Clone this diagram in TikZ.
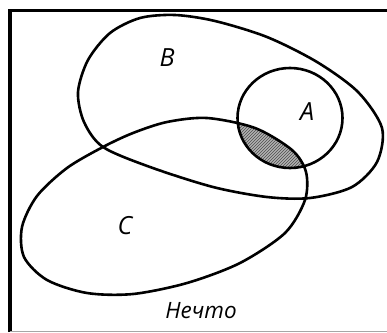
\documentclass[tikz,border=0pt]{standalone}
\usepackage{fontspec}
\setmainfont{Open Sans}
\usetikzlibrary{patterns}

\tikzset{
	setline/.style={line width=2.6pt, line join=round},
	setlabel/.style={font=\fontsize{25}{25}\selectfont\itshape, inner sep=0pt},
	caption/.style={font=\fontsize{22.5}{26}\selectfont\itshape, inner sep=0pt},
	lens/.style={fill=gray!60, postaction={pattern=north east lines, pattern color=black!70}},
}

\begin{document}
\begin{tikzpicture}[x=1pt, y=-1pt]
	\useasboundingbox (0,0) rectangle (387,332);
	% frame
	\draw[line width=3.5pt] (10,332) -- (10,10.5) -- (387,10.5);
	\draw[gray!70, line width=1pt] (10,331.5) -- (387,331.5);
	% shaded part: A and C
	\begin{scope}
		\clip plot[smooth cycle] coordinates {(103,147) (67,168) (37,196) (22,227) (24,257) (47,280) (87,293) (133,294) (187,283) (240,263) (285,233) (305,200) (306,172) (292,150) (255,128) (207,118) (167,122) (133,133)};
		\fill[lens] (290,118) ellipse [x radius=52.5, y radius=50];
	\end{scope}
	% set B
	\draw[setline] plot[smooth cycle] coordinates {(78,92) (88,60) (110,33) (140,18) (175,15) (215,21) (267,37) (317,62) (358,92) (382,128) (377,162) (352,187) (310,198) (267,197) (213,187) (150,167) (103,147) (84,122)};
	% set C
	\draw[setline] plot[smooth cycle] coordinates {(103,147) (67,168) (37,196) (22,227) (24,257) (47,280) (87,293) (133,294) (187,283) (240,263) (285,233) (305,200) (306,172) (292,150) (255,128) (207,118) (167,122) (133,133)};
	% set A
	\draw[setline] (290,118) ellipse [x radius=52.5, y radius=50];
	% labels
	\node[setlabel] (labB) at (167,58) {B};
	\node[setlabel] (labA) at (307,112) {A};
	\node[setlabel] (labC) at (125,226) {C};
	\node[caption] (title) at (201,311) {Нечто};
\end{tikzpicture}
\end{document}
